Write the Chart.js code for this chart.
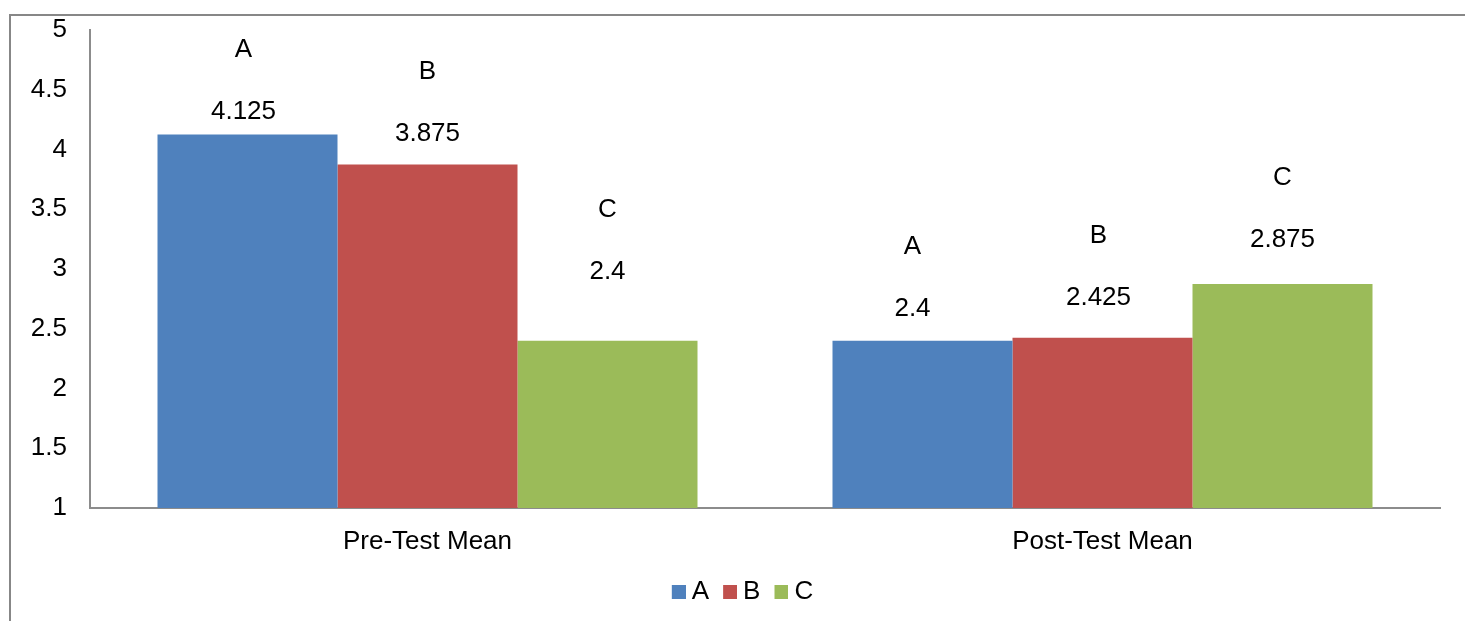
<!DOCTYPE html>
<html>
<head>
<meta charset="utf-8">
<script src="https://cdn.jsdelivr.net/npm/chart.js@4/dist/chart.umd.min.js"></script>
<style>
  html, body { margin: 0; padding: 0; background: #ffffff; }
  #wrap { width: 1465px; height: 621px; }
</style>
</head>
<body>
<div id="wrap"><canvas id="c" width="1465" height="621"></canvas></div>
<script>
// Chart values
const categories = ['Pre-Test Mean', 'Post-Test Mean'];
const seriesNames = ['A', 'B', 'C'];
const seriesA = [4.125, 2.4];
const seriesB = [3.875, 2.425];
const seriesC = [2.4, 2.875];
const yTicks = [1, 1.5, 2, 2.5, 3, 3.5, 4, 4.5, 5];

// Look
const colors = ['#4F81BD', '#C0504D', '#9BBB59'];
const FONT = '"Liberation Sans", Arial, sans-serif';
const FS = 26;
// Lift (px) of each value label above its bar, per series then per category
const labelLift = [[23, 32], [31, 40], [69, 44]];
const labelShiftX = [[-4, -10], [0, -4], [0, 0]];
const letterAbove = 62;
const legendShift = 19;

const seriesValues = [seriesA, seriesB, seriesC];

// Legend swatch: 14px square on the right half of a 28px-wide image, so the
// label text sits close to it
function swatch(color) {
  const cv = document.createElement('canvas');
  cv.width = 28;
  cv.height = 14;
  const g = cv.getContext('2d');
  g.fillStyle = color;
  g.fillRect(14, 0, 14, 14);
  return cv;
}

// Outer frame of the chart area (partly cut off)
const framePlugin = {
  id: 'frame',
  beforeDraw(chart) {
    const ctx = chart.ctx;
    ctx.save();
    ctx.strokeStyle = '#878787';
    ctx.lineWidth = 2;
    ctx.beginPath();
    ctx.moveTo(10, 700);
    ctx.lineTo(10, 15);
    ctx.lineTo(1500, 15);
    ctx.stroke();
    ctx.restore();
  }
};

// Centre the legend on the full frame width
const legendPlace = {
  id: 'legendPlace',
  afterLayout(chart) {
    const lg = chart.legend;
    if (lg) { lg.left += legendShift; lg.right += legendShift; }
  }
};

// Value and series-name labels above each bar
const barLabels = {
  id: 'barLabels',
  afterDatasetsDraw(chart) {
    const ctx = chart.ctx;
    ctx.save();
    ctx.fillStyle = '#000000';
    ctx.font = FS + 'px ' + FONT;
    ctx.textAlign = 'center';
    ctx.textBaseline = 'middle';
    chart.data.datasets.forEach((ds, di) => {
      const meta = chart.getDatasetMeta(di);
      meta.data.forEach((bar, i) => {
        const x = bar.x + labelShiftX[di][i];
        const yVal = bar.y - labelLift[di][i];
        ctx.fillText(String(ds.data[i]), x, yVal);
        ctx.fillText(ds.label, x, yVal - letterAbove);
      });
    });
    ctx.restore();
  }
};

new Chart(document.getElementById('c'), {
  type: 'bar',
  data: {
    labels: categories,
    datasets: seriesNames.map((name, i) => ({
      label: name,
      data: seriesValues[i],
      backgroundColor: colors[i],
      borderWidth: 0,
      pointStyle: swatch(colors[i]),
      categoryPercentage: 0.8,
      barPercentage: 1.0
    }))
  },
  options: {
    responsive: false,
    animation: false,
    devicePixelRatio: 1,
    layout: { padding: { left: 0, top: 30, right: 25, bottom: 6 } },
    plugins: {
      tooltip: { enabled: false },
      legend: {
        position: 'bottom',
        labels: {
          color: '#000000',
          font: { family: FONT, size: FS },
          usePointStyle: true,
          pointStyleWidth: 14,
          boxHeight: 14,
          padding: 7
        }
      }
    },
    scales: {
      x: {
        grid: { display: false, drawTicks: false },
        border: { display: true, color: '#8c8c8c', width: 2 },
        ticks: { color: '#000000', font: { family: FONT, size: FS }, padding: 18 },
        afterFit(s) { s.height = 64; }
      },
      y: {
        min: 1,
        max: 5,
        afterBuildTicks(s) { s.ticks = yTicks.map(v => ({ value: v })); },
        grid: { display: false, drawTicks: false },
        border: { display: true, color: '#8c8c8c', width: 2 },
        ticks: {
          color: '#000000',
          font: { family: FONT, size: FS },
          padding: 23,
          callback: (v) => String(v)
        },
        afterFit(s) { s.width = 90; s.paddingTop = 0; s.paddingBottom = 0; }
      }
    }
  },
  plugins: [framePlugin, legendPlace, barLabels]
});
</script>
</body>
</html>
